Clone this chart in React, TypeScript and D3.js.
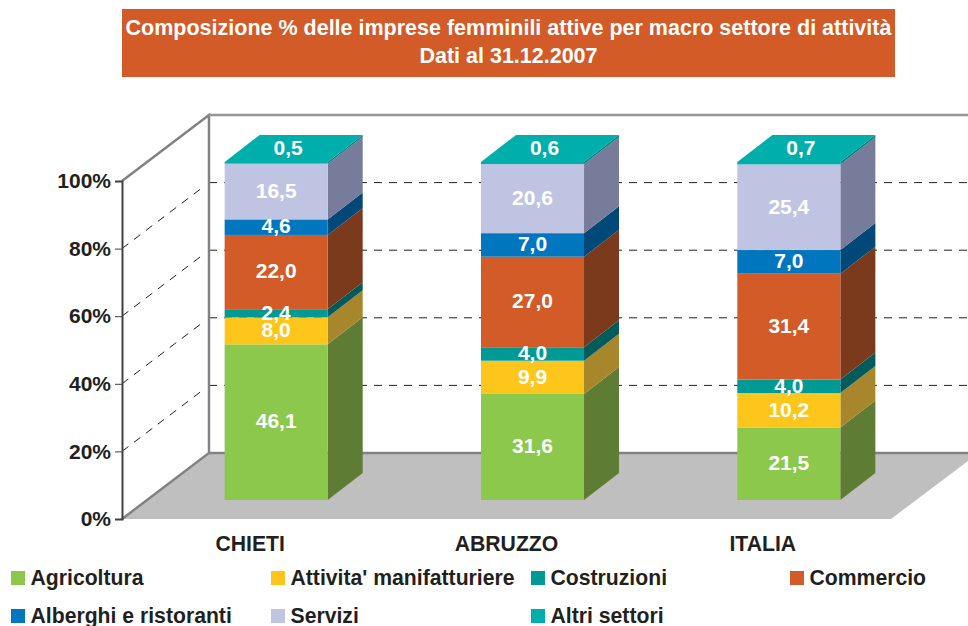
import * as d3 from 'd3';
import React, { useEffect, useRef } from 'react';

const categories = ['CHIETI', 'ABRUZZO', 'ITALIA'];
const seriesNames = [
    'Agricoltura',
    "Attivita' manifatturiere",
    'Costruzioni',
    'Commercio',
    'Alberghi e ristoranti',
    'Servizi',
    'Altri settori'
];
const chieti = [46.1, 8.0, 2.4, 22.0, 4.6, 16.5, 0.5];
const abruzzo = [31.6, 9.9, 4.0, 27.0, 7.0, 20.6, 0.6];
const italia = [21.5, 10.2, 4.0, 31.4, 7.0, 25.4, 0.7];
const yTicks = [0, 20, 40, 60, 80, 100];
const titleLines = [
    'Composizione % delle imprese femminili attive per macro settore di attività',
    'Dati al 31.12.2007'
];

const frontColors = ['#8CC84B', '#FEC61A', '#009A96', '#D25B27', '#0076BF', '#BFC4E2', '#00AEAB'];
const sideColors = ['#5F7C34', '#A8862B', '#015B5B', '#7A3A1B', '#004877', '#767C9A', '#007E7B'];

const FONT = '"Liberation Sans", Arial, sans-serif';
const TEXT = '#231F20';
const WALL = '#808285';

// plot geometry: front plane of the box and the depth offsets
const width = 968;
const height = 626;
const left = 122;
const right = 891;
const bottom = 519;
const top = 181;
const wallDx = 87;
const wallDy = -66;
const barOffsetX = 26;
const barOffsetY = -19;
const barDx = 35;
const barDy = -27;

/**
 * Stacked 3D-looking bar chart.
 */
export default function App() {
    const ref = useRef<SVGSVGElement>(null);

    useEffect(() => {
        const svg = d3.select(ref.current);

        svg.selectAll('*').remove();

        const x = d3.scaleBand()
            .domain(categories)
            .range([ left, right ])
            .paddingInner(0.598)
            .paddingOuter(0.299);
        const y = d3.scaleLinear()
            .domain([ 0, 100 ])
            .range([ bottom, top ]);

        // the published shares add up to a little over 100, the chart fills 100%
        const yShare = (v: number) => y(v * 100);

        const rows = categories.map((c, i) => {
            const values = [ chieti, abruzzo, italia ][i];
            const row: any = { category: c };

            seriesNames.forEach((s, j) => {
                row[s] = values[j];
            });

            return row;
        });
        const stacked = d3.stack()
            .keys(seriesNames)
            .offset(d3.stackOffsetExpand)(rows);

        // title band
        svg.append('rect')
            .attr('x', 122)
            .attr('y', 9)
            .attr('width', 773)
            .attr('height', 68)
            .attr('fill', '#D25B27');
        svg.append('g')
            .selectAll('text')
            .data(titleLines)
            .enter()
            .append('text')
            .attr('x', 508.5)
            .attr('y', (_, i) => 35 + (i * 28))
            .attr('text-anchor', 'middle')
            .attr('fill', '#fff')
            .attr('font-size', 21.5)
            .attr('font-weight', 'bold')
            .text(d => d);

        // floor
        svg.append('polygon')
            .attr('points', [
                [ left, bottom ],
                [ left + wallDx, bottom + wallDy ],
                [ width, bottom + wallDy ],
                [ width, 461 ],
                [ right, bottom ]
            ].join(' '))
            .attr('fill', '#BFBFBF');

        // dashed grid on both walls
        const gridTicks = yTicks.filter(t => t > 0 && t < 100);
        const grid = svg.append('g')
            .attr('stroke', '#231F20')
            .attr('stroke-width', 1)
            .attr('stroke-dasharray', '8,7');

        grid.selectAll('line.side')
            .data(gridTicks)
            .enter()
            .append('line')
            .attr('x1', left)
            .attr('y1', d => y(d))
            .attr('x2', left + wallDx - 6)
            .attr('y2', d => y(d) + (wallDy * (wallDx - 6) / wallDx));
        grid.selectAll('line.back')
            .data(gridTicks)
            .enter()
            .append('line')
            .attr('x1', left + wallDx)
            .attr('y1', d => y(d) + wallDy)
            .attr('x2', width)
            .attr('y2', d => y(d) + wallDy);

        // walls
        svg.append('path')
            .attr('d', d3.line()([
                [ left, top ],
                [ left + wallDx, top + wallDy ],
                [ left + wallDx, bottom + wallDy ],
                [ left, bottom ]
            ]))
            .attr('fill', 'none')
            .attr('stroke', WALL)
            .attr('stroke-width', 2.5);
        svg.append('line')
            .attr('x1', left + wallDx)
            .attr('y1', top + wallDy)
            .attr('x2', width)
            .attr('y2', top + wallDy)
            .attr('stroke', '#939598')
            .attr('stroke-width', 2.5);
        svg.append('line')
            .attr('x1', left + wallDx)
            .attr('y1', bottom + wallDy)
            .attr('x2', width)
            .attr('y2', bottom + wallDy)
            .attr('stroke', WALL)
            .attr('stroke-width', 2.5);

        // bars, bottom segment first
        const bars = svg.append('g');

        stacked.forEach((layer, s) => {
            const isLast = s === stacked.length - 1;
            const g = bars.append('g');

            g.selectAll('polygon.side')
                .data(layer)
                .enter()
                .append('polygon')
                .attr('points', d => {
                    const x1 = x(d.data.category) + barOffsetX + x.bandwidth();
                    const y0 = yShare(d[0]) + barOffsetY;
                    const y1 = yShare(d[1]) + barOffsetY;

                    return [
                        [ x1, y0 ],
                        [ x1 + barDx, y0 + barDy ],
                        [ x1 + barDx, y1 + barDy ],
                        [ x1, y1 ]
                    ].join(' ');
                })
                .attr('fill', sideColors[s]);
            g.selectAll('rect')
                .data(layer)
                .enter()
                .append('rect')
                .attr('x', d => x(d.data.category) + barOffsetX)
                .attr('y', d => yShare(d[1]) + barOffsetY)
                .attr('width', x.bandwidth())
                .attr('height', d => yShare(d[0]) - yShare(d[1]))
                .attr('fill', frontColors[s]);

            if (isLast) {
                g.selectAll('polygon.top')
                    .data(layer)
                    .enter()
                    .append('polygon')
                    .attr('points', d => {
                        const x0 = x(d.data.category) + barOffsetX;
                        const y1 = yShare(d[1]) + barOffsetY;

                        return [
                            [ x0, y1 ],
                            [ x0 + barDx, y1 + barDy ],
                            [ x0 + x.bandwidth() + barDx, y1 + barDy ],
                            [ x0 + x.bandwidth(), y1 ]
                        ].join(' ');
                    })
                    .attr('fill', frontColors[s]);
            }
        });

        // value labels; the last series sits on the top face
        stacked.forEach((layer, s) => {
            const isLast = s === stacked.length - 1;

            bars.append('g')
                .selectAll('text')
                .data(layer)
                .enter()
                .append('text')
                .attr('x', d => x(d.data.category) + barOffsetX + (x.bandwidth() / 2) + (isLast ? 12 : 0))
                .attr('y', d => (isLast
                    ? yShare(d[1]) + barOffsetY + (barDy / 2)
                    : (yShare(d[0]) + yShare(d[1])) / 2 + barOffsetY) + 6.3)
                .attr('text-anchor', 'middle')
                .attr('fill', '#fff')
                .attr('font-size', 21)
                .attr('font-weight', 'bold')
                .text(d => d.data[seriesNames[s]].toFixed(1).replace('.', ','));
        });

        // y axis
        const yAxis = d3.axisLeft(y)
            .tickValues(yTicks)
            .tickSize(7)
            .tickPadding(4)
            .tickFormat(d => `${d}%`);
        const axisG = svg.append('g')
            .attr('transform', `translate(${left}, 0)`)
            .call(yAxis);

        axisG.select('.domain')
            .attr('stroke', '#414042')
            .attr('stroke-width', 2);
        axisG.selectAll('.tick line')
            .attr('stroke', '#414042');
        axisG.selectAll('text')
            .attr('fill', TEXT)
            .attr('font-size', 21)
            .attr('font-weight', 'bold')
            .attr('font-family', FONT);

        // category labels
        svg.append('g')
            .selectAll('text')
            .data(categories)
            .enter()
            .append('text')
            .attr('x', d => x(d) + (x.bandwidth() / 2))
            .attr('y', 551)
            .attr('text-anchor', 'middle')
            .attr('fill', TEXT)
            .attr('font-size', 21.2)
            .attr('font-weight', 'bold')
            .text(d => d);

        // legend
        const legendX = d3.scaleOrdinal().domain(seriesNames)
            .range([ 11, 271, 531, 790, 11, 271, 531 ]);
        const legendY = (i: number) => (i < 4 ? 571 : 609);
        const legend = svg.append('g')
            .selectAll('g')
            .data(seriesNames)
            .enter()
            .append('g');

        legend.append('rect')
            .attr('x', d => legendX(d))
            .attr('y', (_, i) => legendY(i))
            .attr('width', 14)
            .attr('height', 14)
            .attr('fill', (_, i) => frontColors[i]);
        legend.append('text')
            .attr('x', d => legendX(d) + 19.5)
            .attr('y', (_, i) => legendY(i) + 14)
            .attr('fill', TEXT)
            .attr('font-size', 21.2)
            .attr('font-weight', 'bold')
            .text(d => d);
    }, []);

    return (
        <svg
            ref = { ref }
            width = { width }
            height = { height }
            style = {{ position: 'absolute', left: 0, top: 0, fontFamily: FONT }} />
    );
}
